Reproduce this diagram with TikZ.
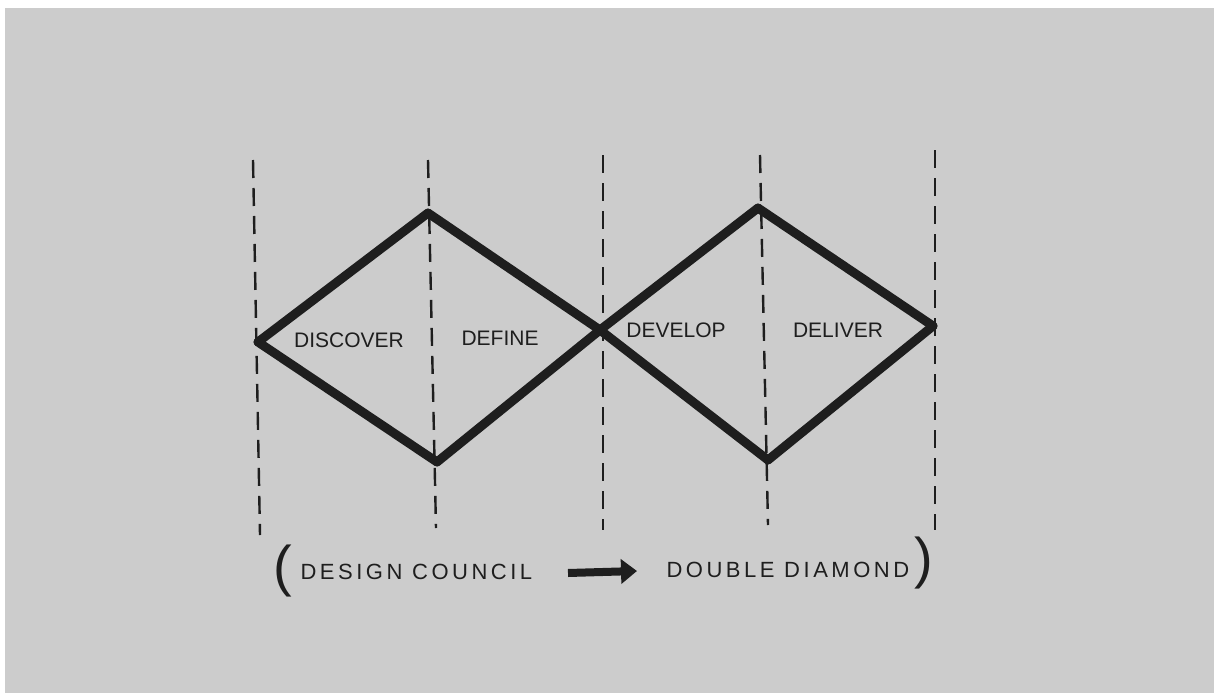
\documentclass[tikz,border=0pt]{standalone}
\usepackage{fontspec}
\setmainfont{Liberation Sans}
\newfontfamily\handwide[LetterSpace=16]{Liberation Sans}
\usetikzlibrary{arrows.meta, positioning}
\definecolor{PaperGray} {HTML}{CCCCCC}
\definecolor{InkBlack}  {HTML}{1E1E1E}

\begin{document}
\begin{tikzpicture}[
  x=1pt, y=-1pt,
  phase/.style  = {draw=none, font=\fontsize{21}{21}\selectfont, text=InkBlack},
  note/.style   = {draw=none, font=\handwide\fontsize{22}{22}\selectfont, text=InkBlack},
  paren/.style  = {draw=none, font=\fontsize{56}{56}\selectfont, text=InkBlack},
  edge/.style   = {draw=InkBlack, line width=9pt, line cap=round, line join=round},
  guide/.style  = {draw=InkBlack, line width=2.4pt, dash pattern=on 18pt off 10pt},
  arr/.style    = {-{Triangle[length=16pt, width=24pt]}, InkBlack, line width=8pt},
]
% paper
\fill[white] (0,0) rectangle (1214,693);
\fill[PaperGray] (5,8) rectangle (1214,693);
\useasboundingbox (0,0) rectangle (1214,693);

% dashed guides
\coordinate (g1t) at (253,160); \coordinate (g1b) at (260,535);
\coordinate (g2t) at (428,160); \coordinate (g2b) at (436,528);
\coordinate (g3t) at (603,155); \coordinate (g3b) at (603,530);
\coordinate (g4t) at (760,155); \coordinate (g4b) at (768,525);
\coordinate (g5t) at (935,150); \coordinate (g5b) at (935,530);
\foreach \t/\b in {g1t/g1b,g2t/g2b,g3t/g3b,g4t/g4b,g5t/g5b}
  \draw[guide] (\t) -- (\b);

% diamonds
\coordinate (d1l) at (258,342);
\coordinate (d1t) at (428,213);
\coordinate (mid) at (600,330);
\coordinate (d1b) at (437,462);
\coordinate (d2t) at (758,208);
\coordinate (d2r) at (933,326);
\coordinate (d2b) at (768,460);
\foreach \x/\y in {d1l/d1t,d1t/mid,mid/d1b,d1b/d1l,
                    mid/d2t,d2t/d2r,d2r/d2b,d2b/mid}
  \draw[edge] (\x) -- (\y);

% phase labels
\node[phase] (discover) at (349,340) {DISCOVER};
\node[phase] (define)   at (500,338) {DEFINE};
\node[phase] (develop)  at (676,330) {DEVELOP};
\node[phase] (deliver)  at (838,330) {DELIVER};

% caption
\node[paren] (lp) at (283,571) {(};
\node[note, anchor=west] (council) at (297,572) {DESIGN COUNCIL};
\node[note, anchor=west] (diamond) at (663,570) {DOUBLE DIAMOND};
\node[paren] (rp) at (924,563) {)};
\coordinate (arrs) at (568,573);
\coordinate (arre) at (637,571);
\draw[arr] (arrs) -- (arre);
\end{tikzpicture}
\end{document}
